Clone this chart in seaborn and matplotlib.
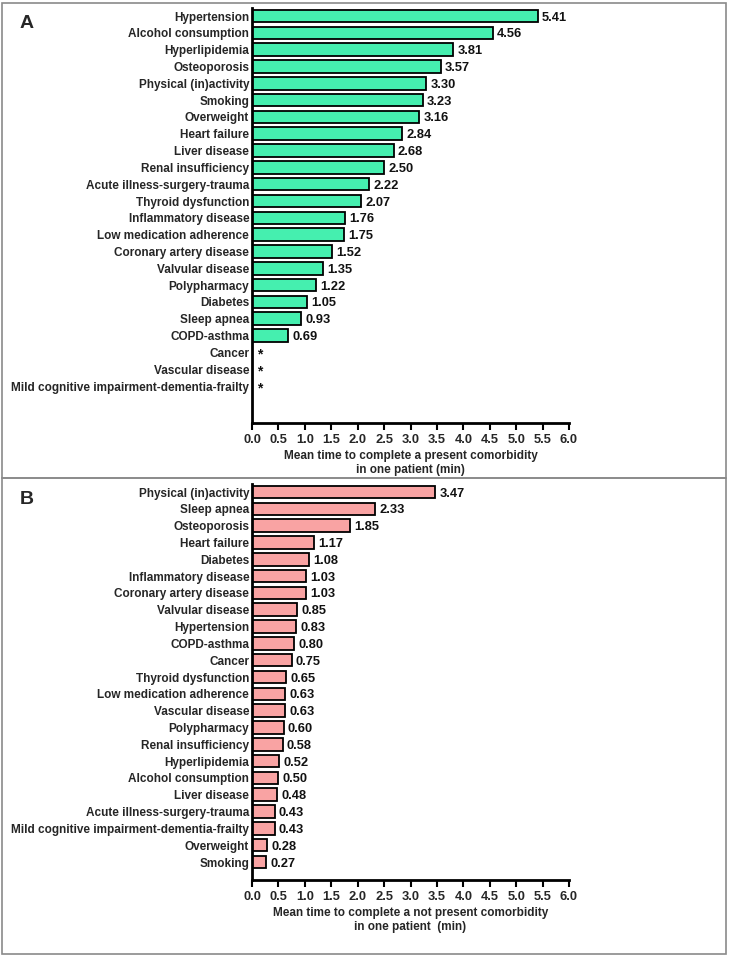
import numpy as np
import pandas as pd
import matplotlib
matplotlib.use("Agg")
import matplotlib.pyplot as plt
import seaborn as sns
from matplotlib.patches import Rectangle

sns.set_theme(style="white")
plt.rcParams['font.family'] = ['Liberation Sans', 'DejaVu Sans']
plt.rcParams['font.weight'] = 'bold'

cats_a = ["Hypertension", "Alcohol consumption", "Hyperlipidemia", "Osteoporosis",
          "Physical (in)activity", "Smoking", "Overweight", "Heart failure",
          "Liver disease", "Renal insufficiency", "Acute illness-surgery-trauma",
          "Thyroid dysfunction", "Inflammatory disease", "Low medication adherence",
          "Coronary artery disease", "Valvular disease", "Polypharmacy", "Diabetes",
          "Sleep apnea", "COPD-asthma", "Cancer", "Vascular disease",
          "Mild cognitive impairment-dementia-frailty"]
vals_a = [5.41, 4.56, 3.81, 3.57, 3.30, 3.23, 3.16, 2.84, 2.68, 2.50, 2.22, 2.07,
          1.76, 1.75, 1.52, 1.35, 1.22, 1.05, 0.93, 0.69, np.nan, np.nan, np.nan]

cats_b = ["Physical (in)activity", "Sleep apnea", "Osteoporosis", "Heart failure",
          "Diabetes", "Inflammatory disease", "Coronary artery disease",
          "Valvular disease", "Hypertension", "COPD-asthma", "Cancer",
          "Thyroid dysfunction", "Low medication adherence", "Vascular disease",
          "Polypharmacy", "Renal insufficiency", "Hyperlipidemia",
          "Alcohol consumption", "Liver disease", "Acute illness-surgery-trauma",
          "Mild cognitive impairment-dementia-frailty", "Overweight", "Smoking"]
vals_b = [3.47, 2.33, 1.85, 1.17, 1.08, 1.03, 1.03, 0.85, 0.83, 0.80, 0.75, 0.65,
          0.63, 0.63, 0.60, 0.58, 0.52, 0.50, 0.48, 0.43, 0.43, 0.28, 0.27]

xticks = [0.0, 0.5, 1.0, 1.5, 2.0, 2.5, 3.0, 3.5, 4.0, 4.5, 5.0, 5.5, 6.0]
xlabel_a = "Mean time to complete a present comorbidity\nin one patient (min)"
xlabel_b = "Mean time to complete a not present comorbidity\nin one patient  (min)"

W, H = 729, 957
fig = plt.figure(figsize=(W / 100, H / 100), dpi=100)

def ax_rect(left, right, top, bottom):
    return [left / W, 1 - bottom / H, (right - left) / W, (bottom - top) / H]

def panel(rect, cats, vals, color, xlabel, ylim_bottom, letter, letter_y):
    ax = fig.add_axes(rect)
    df = pd.DataFrame({"cat": cats, "val": vals})
    sns.barplot(data=df, x="val", y="cat", order=cats, color=color, saturation=1,
                edgecolor="black", linewidth=1.3, width=0.75, orient="h", ax=ax,
                errorbar=None)
    for i, v in enumerate(vals):
        if np.isnan(v):
            ax.text(0.1, i + 0.15, "*", va="center", ha="left", fontsize=10,
                    fontweight="bold", color="#111111")
        else:
            ax.text(v + 0.08, i, f"{v:.2f}", va="center_baseline", ha="left",
                    fontsize=9.3, fontweight="bold", color="#111111")
    ax.set_xlim(0, 6.0)
    ax.set_ylim(ylim_bottom, -0.5)
    ax.set_xticks(xticks)
    ax.set_xticklabels([f"{t:.1f}" for t in xticks], fontsize=9.3, fontweight="bold")
    ax.tick_params(axis="x", direction="out", length=5, width=1.5, color="black",
                   pad=3, bottom=True)
    ax.tick_params(axis="y", length=0, pad=2, labelsize=8.5)
    for lab in ax.get_yticklabels():
        lab.set_fontweight("bold")
    ax.set_ylabel("")
    ax.set_xlabel(xlabel, fontsize=8.5, fontweight="bold", labelpad=3)
    for s in ["top", "right"]:
        ax.spines[s].set_visible(False)
    for s in ["left", "bottom"]:
        ax.spines[s].set_linewidth(2)
        ax.spines[s].set_color("black")
    fig.text(20 / W, 1 - letter_y / H, letter, fontsize=14, fontweight="bold",
             va="center", ha="left")
    return ax

panel(ax_rect(252, 569, 7.6, 423), cats_a, vals_a, "#45EFAF", xlabel_a, 24.2, "A", 24)
panel(ax_rect(252, 569, 483.6, 880), cats_b, vals_b, "#F9A3A3", xlabel_b, 23.07, "B", 499)

fig.patches.append(Rectangle((2 / W, 1 - 478 / H), 724 / W, 475 / H,
                             transform=fig.transFigure, fill=False,
                             edgecolor="#8a8a8a", linewidth=1.2))
fig.patches.append(Rectangle((2 / W, 1 - 954 / H), 724 / W, 476 / H,
                             transform=fig.transFigure, fill=False,
                             edgecolor="#8a8a8a", linewidth=1.2))

fig.savefig("out.png", dpi=100)
